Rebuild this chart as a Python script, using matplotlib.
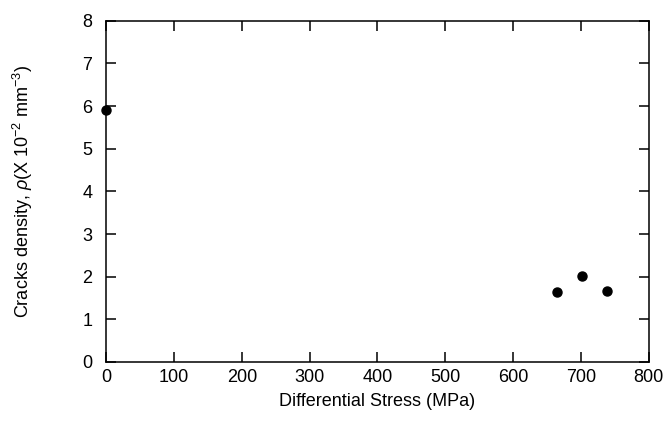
import matplotlib.pyplot as plt

# valores
tensao = [0, 665, 702, 738]
densidade = [5.9, 1.64, 2.02, 1.67]
xticks = [0, 100, 200, 300, 400, 500, 600, 700, 800]
yticks = [0, 1, 2, 3, 4, 5, 6, 7, 8]

plt.rcParams['font.family'] = ['Liberation Sans', 'DejaVu Sans']
plt.rcParams['mathtext.fontset'] = 'custom'
plt.rcParams['mathtext.rm'] = 'Liberation Sans'
plt.rcParams['mathtext.it'] = 'Liberation Sans:italic'

fig = plt.figure(figsize=(6.64, 4.34), dpi=100)
ax = fig.add_axes([0.160, 0.166, 0.817, 0.786])

ax.plot(tensao, densidade, 'o', color='black', markersize=6.5, clip_on=False, zorder=3)

ax.set_xlim(0, 800)
ax.set_ylim(0, 8)
ax.set_xticks(xticks)
ax.set_yticks(yticks)
ax.tick_params(direction='in', top=True, right=True, length=7, width=1.1,
               labelsize=13, colors='black')
ax.tick_params(axis='y', pad=10)
ax.tick_params(axis='x', pad=5)
for s in ax.spines.values():
    s.set_linewidth(1.1)

ax.set_xlabel('Differential Stress (MPa)', fontsize=13, labelpad=5)
ax.set_ylabel(r'Cracks density, $\rho$(X 10$^{-2}$ mm$^{-3}$)', fontsize=13, labelpad=34)

fig.savefig('out.png', dpi=100)
